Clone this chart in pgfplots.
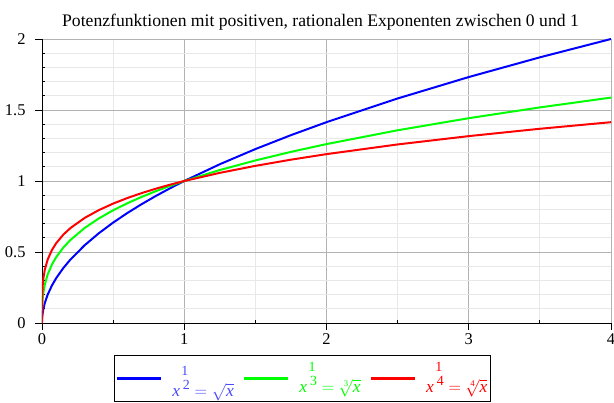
\documentclass[border=0pt]{standalone}
\usepackage{pgfplots}
\pgfplotsset{compat=1.18}
\usepackage{fontspec}
\setmainfont{Liberation Serif}
\definecolor{majgrid}{RGB}{178,178,178}
\definecolor{mingrid}{RGB}{232,232,232}
\newcommand\ex[2]{\,\raisebox{7bp}{\fontsize{14}{14}\selectfont #2}\llap{\raisebox{21bp}{\fontsize{14}{14}\selectfont #1\kern1.5bp}}}
\begin{document}
\begin{tikzpicture}
\begin{axis}[
  scale only axis, width=569bp, height=284bp,
  xmin=0, xmax=4, ymin=0, ymax=2,
  axis lines=left, axis line style={-, black, line width=0.9pt},
  xtick={0,1,2,3,4}, ytick={0,0.5,1,1.5,2},
  minor xtick={0.5,1.5,2.5,3.5},
  minor ytick={0.1,0.2,0.3,0.4,0.6,0.7,0.8,0.9,1.1,1.2,1.3,1.4,1.6,1.7,1.8,1.9},
  grid=both,
  major grid style={majgrid, line width=0.9pt},
  minor grid style={mingrid, line width=0.9pt},
  tick style={black, line width=0.8pt},
  major tick length=7bp, minor tick length=-3bp,
  tick align=outside,
  /pgf/number format/assume math mode=true,
  ticklabel style={font=\fontsize{16.5}{18}\selectfont},
  yticklabel style={xshift=-6bp},
  title={Potenzfunktionen mit positiven, rationalen Exponenten zwischen 0 und 1},
  title style={font=\fontsize{17.7}{19}\selectfont, yshift=-1pt, xshift=-6bp},
  legend columns=3,
  legend style={at={(0.458,-0.114)}, anchor=north, draw=black, line width=0.8pt,
    font=\fontsize{17.5}{19}\selectfont, inner xsep=1pt, inner ysep=1pt,
    /tikz/every even column/.append style={column sep=7pt}},
  legend image code/.code={\draw[#1, line width=3pt] (0bp,0bp) -- (44bp,0bp); \path (52bp,0bp);},
  every axis plot/.append style={line width=2pt},
  clip=true,
]
\coordinate (bl) at (rel axis cs:0,0);
\addplot[blue] coordinates {
(0,0)(0.00001,0.003162)(0.0001,0.01)(0.001,0.031623)(0.005,0.070711)(0.01,0.1)(0.02,0.141421)(0.04,0.2)(0.07,0.264575)(0.1,0.316228)(0.15,0.387298)(0.2,0.447214)(0.3,0.547723)(0.4,0.632456)(0.5,0.707107)(0.6,0.774597)(0.7,0.836660)(0.8,0.894427)(0.9,0.948683)(1,1)(1.25,1.118034)(1.5,1.224745)(1.75,1.322876)(2,1.414214)(2.5,1.581139)(3,1.732051)(3.5,1.870829)(4,2)};
\addlegendentry{\rule{0pt}{38bp}\color{blue!70!white}$\mathit{x}$\ex{1}{2}$\;=\sqrt{\mathit{x}}$}
\addplot[green] coordinates {
(0,0)(0.00001,0.021544)(0.0001,0.046416)(0.001,0.1)(0.005,0.170998)(0.01,0.215443)(0.02,0.271442)(0.04,0.341995)(0.07,0.412129)(0.1,0.464159)(0.15,0.531329)(0.2,0.584804)(0.3,0.669433)(0.4,0.736806)(0.5,0.793701)(0.6,0.843433)(0.7,0.887904)(0.8,0.928318)(0.9,0.965489)(1,1)(1.25,1.077217)(1.5,1.144714)(1.75,1.205071)(2,1.259921)(2.5,1.357209)(3,1.442250)(3.5,1.518294)(4,1.587401)};
\addlegendentry{\color{green}$\mathit{x}$\ex{1}{3}$\;=\sqrt[\mathrm{3}]{\mathit{x}}$}
\addplot[red] coordinates {
(0,0)(0.00001,0.056234)(0.0001,0.1)(0.001,0.177828)(0.005,0.265915)(0.01,0.316228)(0.02,0.376060)(0.04,0.447214)(0.07,0.514369)(0.1,0.562341)(0.15,0.622333)(0.2,0.668740)(0.3,0.740083)(0.4,0.795271)(0.5,0.840896)(0.6,0.880112)(0.7,0.914691)(0.8,0.945742)(0.9,0.974004)(1,1)(1.25,1.057371)(1.5,1.106682)(1.75,1.150163)(2,1.189207)(2.5,1.257433)(3,1.316074)(3.5,1.367783)(4,1.414214)};
\addlegendentry{\color{red}$\mathit{x}$\ex{1}{4}$\;=\sqrt[\mathrm{4}]{\mathit{x}}$}
\end{axis}
\pgfresetboundingbox
\path (bl) ++(-42bp,-80bp) rectangle ++(614bp,403bp);
\end{tikzpicture}
\end{document}
